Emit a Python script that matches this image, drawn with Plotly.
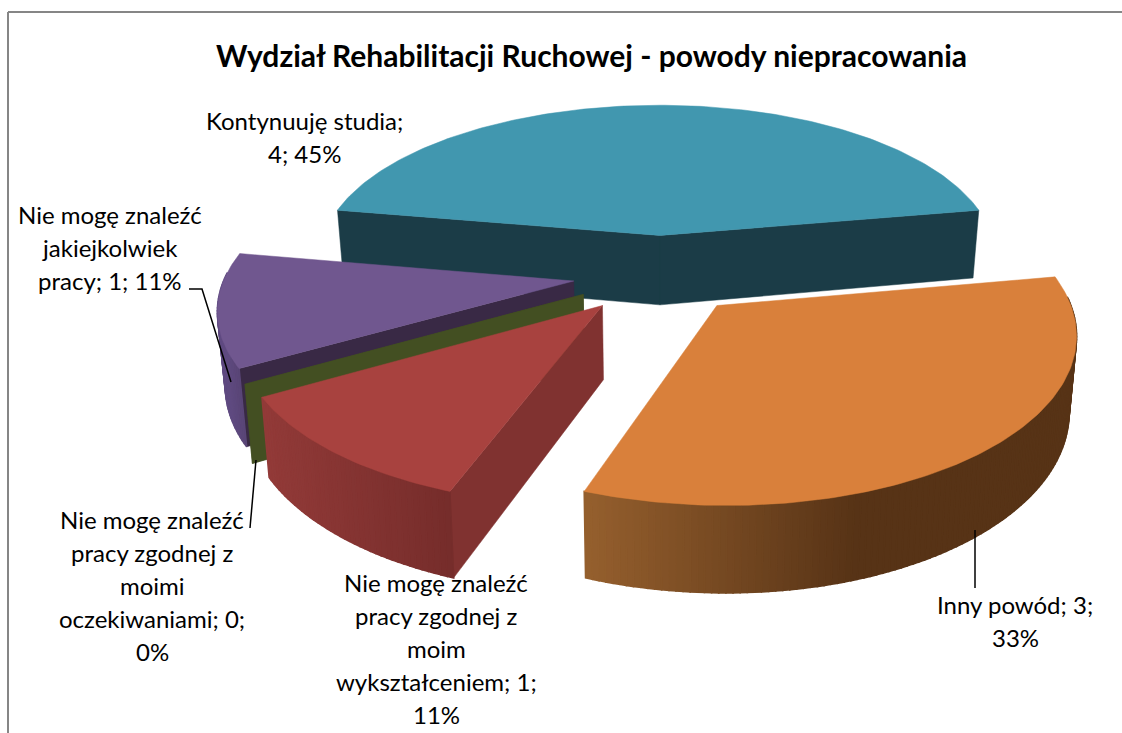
import math
import plotly.graph_objects as go

# --- data ---
title = "Wydział Rehabilitacji Ruchowej - powody niepracowania"
categories = ["Kontynuuję studia", "Inny powód", "Nie mogę znaleźć pracy zgodnej z moim wykształceniem",
              "Nie mogę znaleźć pracy zgodnej z moimi oczekiwaniami", "Nie mogę znaleźć jakiejkolwiek pracy"]
values = [4, 3, 1, 0, 1]
percents = [45, 33, 11, 0, 11]
label_lines = [
    ["Kontynuuję studia;", "{v}; {p}%"],
    ["Inny powód; {v};", "{p}%"],
    ["Nie mogę znaleźć", "pracy zgodnej z", "moim", "wykształceniem; {v};", "{p}%"],
    ["Nie mogę znaleźć", "pracy zgodnej z", "moimi", "oczekiwaniami; {v};", "{p}%"],
    ["Nie mogę znaleźć", "jakiejkolwiek", "pracy; {v}; {p}%"],
]

# --- styles ---
top_colors = ["#4197AF", "#D9803B", "#A8423F", "#4F6228", "#70578F"]
radial_colors = ["#1B3C47", "#5A3417", "#803230", "#434F22", "#392945"]
wall_left = ["#1B3C47", "#96602E", "#923A38", "#434F22", "#5F4A80"]
wall_right = ["#1B3C47", "#573316", "#762D2B", "#434F22", "#54416F"]
wall_span = [(0, 1), (584, 860), (265, 450), (0, 1), (225, 250)]
draw_order = [0, 4, 3, 2, 1]
label_pos = [(304, 120), (1015, 604), (436, 582), (152, 519), (110, 214)]
line_gap = 33.2

# projection parameters
CX, CY, A_RIGHT, A_LEFT, B, K, EXPLODE, DEPTH, LEAN = 660, 274, 344, 348, 160, 0.148, 0.25, 72, 0.982
START = -80.0


def project(x, z, down=False):
    s = 1 / (1 + K * z)
    sx = (A_RIGHT if x >= 0 else A_LEFT) * x * s
    sy = CY - B * z * s
    if down:
        return CX + sx * LEAN, sy + DEPTH * s
    return CX + sx, sy


def mix(c1, c2, t):
    t = max(0.0, min(1.0, t))
    a = [int(c1[i:i + 2], 16) for i in (1, 3, 5)]
    b = [int(c2[i:i + 2], 16) for i in (1, 3, 5)]
    return "rgb({},{},{})".format(*[round(p + (q - p) * t) for p, q in zip(a, b)])


total = sum(values)
slices = []
ang = START
for v in values:
    sweep = 360.0 * v / total
    slices.append((ang, ang + sweep))
    ang += sweep

fig = go.Figure()


def poly(points, color, lw=1.0):
    xs = [p[0] for p in points] + [points[0][0]]
    ys = [p[1] for p in points] + [points[0][1]]
    fig.add_trace(go.Scatter(x=xs, y=ys, mode="lines", fill="toself", fillcolor=color,
                             line=dict(color=color, width=lw), hoverinfo="skip", showlegend=False))


for i in draw_order:
    a0, a1 = slices[i]
    mid = math.radians((a0 + a1) / 2)
    ox, oz = EXPLODE * math.sin(mid), EXPLODE * math.cos(mid)
    n = max(1, int(a1 - a0))
    thetas = [math.radians(a0 + (a1 - a0) * k / n) for k in range(n + 1)]
    rim = [(ox + math.sin(t), oz + math.cos(t)) for t in thetas]
    apex = project(ox, oz)
    inner = project(ox + 0.5 * math.sin(mid), oz + 0.5 * math.cos(mid))
    # radial walls, only those facing the viewer
    for p in (rim[0], rim[-1]):
        e = project(*p)
        ex, ey = e[0] - apex[0], e[1] - apex[1]
        side_down = ex * 1.0
        side_in = ex * (inner[1] - apex[1]) - ey * (inner[0] - apex[0])
        if values[i] == 0 or side_down * side_in < 0:
            poly([apex, e, project(*p, down=True), project(ox, oz, down=True)], radial_colors[i], 0.5)
    # outer wall, shaded by screen position
    if values[i] > 0:
        lo, hi = wall_span[i]
        for k in range(n):
            if math.cos(thetas[k]) > 0.05 and math.cos(thetas[k + 1]) > 0.05:
                continue
            p, q = rim[k], rim[k + 1]
            quad = [project(*p), project(*q), project(*q, down=True), project(*p, down=True)]
            t = (project(*p)[0] - lo) / (hi - lo)
            poly(quad, mix(wall_left[i], wall_right[i], t), 1.6)
        # top face
        poly([apex] + [project(*p) for p in rim], top_colors[i], 0.5)

# leader lines
leader_lines = [
    ([975, 975], [530, 588]),
    ([189, 202, 231], [289, 289, 382]),
    ([256, 250], [460, 528]),
]
for lx, ly in leader_lines:
    fig.add_trace(go.Scatter(x=lx, y=ly, mode="lines", line=dict(color="#000000", width=1.5),
                             hoverinfo="skip", showlegend=False))

annotations = [dict(x=591, y=55, text="<b>" + title + "</b>", showarrow=False, xanchor="center", yanchor="middle",
                    font=dict(family="Lato", size=30, color="#000000"))]
for lines, pos, v, p in zip(label_lines, label_pos, values, percents):
    for j, ln in enumerate(lines):
        annotations.append(dict(x=pos[0], y=pos[1] + j * line_gap, text=ln.format(v=v, p=p), showarrow=False,
                                xanchor="center", yanchor="middle",
                                font=dict(family="Lato", size=24, color="#000000")))

frame = dict(color="#868686", width=2)
fig.update_layout(
    width=1122, height=733, margin=dict(l=0, r=0, t=0, b=0),
    paper_bgcolor="#FFFFFF", plot_bgcolor="#FFFFFF", showlegend=False,
    xaxis=dict(range=[0, 1122], visible=False, fixedrange=True),
    yaxis=dict(range=[733, 0], visible=False, fixedrange=True),
    annotations=annotations,
    shapes=[
        dict(type="line", x0=8, x1=8, y0=12, y1=733, line=frame),
        dict(type="line", x0=8, x1=1122, y0=12, y1=12, line=frame),
    ],
)
fig.write_html("out.html", post_script="document.body.style.margin='0';", config={"displayModeBar": False})
